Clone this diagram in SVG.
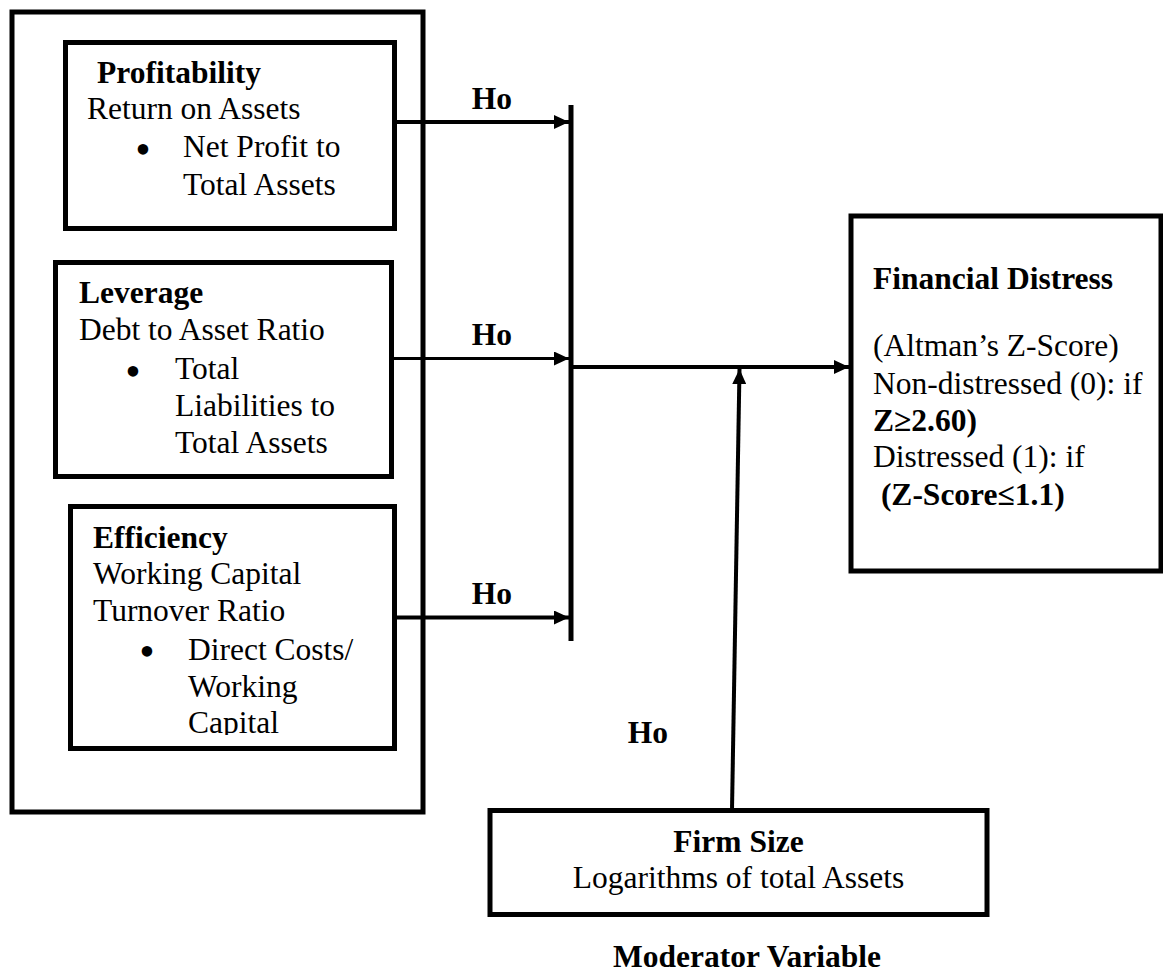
<svg xmlns="http://www.w3.org/2000/svg" width="1163" height="973" viewBox="0 0 1163 973">
<style>
.box{fill:none;stroke:#000;stroke-width:5}
.t{font-family:"Liberation Serif","Times New Roman",serif;font-size:31.5px;fill:#000}
.b{font-weight:bold}
.bul{font-family:"Liberation Serif","Times New Roman",serif;font-size:44px;fill:#000;text-anchor:middle}
.c{text-anchor:middle}
.ln{stroke:#000;stroke-width:4;fill:none}
</style>
<defs>
<marker id="ah" markerUnits="userSpaceOnUse" markerWidth="16" markerHeight="14" refX="15" refY="7" orient="auto" viewBox="0 0 16 14">
<path d="M0,0 L15,7 L0,14 z" fill="#000"/>
</marker>
<clipPath id="effclip"><rect x="60" y="500" width="340" height="235"/></clipPath>
</defs>
<rect width="1163" height="973" fill="#fff"/>

<g id="independent-variables">
<rect class="box" x="12" y="12" width="411" height="800"/>
</g>

<g id="profitability">
<rect class="box" x="65.5" y="42.5" width="329" height="186"/>
<text class="t b" x="97" y="83">Profitability</text>
<text class="t" x="87" y="119">Return on Assets</text>
<text class="bul" x="143" y="164">•</text>
<text class="t" x="183" y="157">Net Profit to</text>
<text class="t" x="183" y="195">Total Assets</text>
</g>

<g id="leverage">
<rect class="box" x="55.5" y="262.5" width="336" height="214"/>
<text class="t b" x="79" y="303">Leverage</text>
<text class="t" x="79" y="340">Debt to Asset Ratio</text>
<text class="bul" x="133" y="386">•</text>
<text class="t" x="175" y="379">Total</text>
<text class="t" x="175" y="416">Liabilities to</text>
<text class="t" x="175" y="453">Total Assets</text>
</g>

<g id="efficiency">
<rect class="box" x="70.5" y="506.5" width="324" height="242"/>
<text class="t b" x="93" y="548">Efficiency</text>
<text class="t" x="93" y="584">Working Capital</text>
<text class="t" x="93" y="621">Turnover Ratio</text>
<text class="bul" x="147" y="666">•</text>
<text class="t" x="188" y="660">Direct Costs/</text>
<text class="t" x="188" y="697">Working</text>
<text class="t" x="188" y="733" clip-path="url(#effclip)">Capital</text>
</g>

<g id="financial-distress">
<rect class="box" x="851" y="216" width="310" height="355"/>
<text class="t b" x="873" y="289">Financial Distress</text>
<text class="t" x="873" y="356">(Altman’s Z-Score)</text>
<text class="t" x="873" y="394">Non-distressed (0): if</text>
<text class="t b" x="873" y="431">Z≥2.60)</text>
<text class="t" x="873" y="467">Distressed (1): if</text>
<text class="t b" x="873" y="505" xml:space="preserve"> (Z-Score≤1.1)</text>
</g>

<g id="firm-size">
<rect class="box" x="490" y="810.5" width="497" height="104"/>
<text class="t b c" x="738.5" y="852">Firm Size</text>
<text class="t c" x="738.5" y="888">Logarithms of total Assets</text>
<text class="t b c" x="747" y="967">Moderator Variable</text>
</g>

<g id="connectors">
<line class="ln" x1="394" y1="122" x2="569" y2="122" marker-end="url(#ah)"/>
<line class="ln" x1="392" y1="358.5" x2="569" y2="358.5" style="stroke-width:3" marker-end="url(#ah)"/>
<line class="ln" x1="394" y1="617.5" x2="569" y2="617.5" marker-end="url(#ah)"/>
<line class="ln" x1="571" y1="105" x2="571" y2="641" style="stroke-width:5"/>
<line class="ln" x1="571" y1="367" x2="849" y2="367" marker-end="url(#ah)"/>
<line class="ln" x1="732" y1="810" x2="739.5" y2="369" marker-end="url(#ah)"/>
<text class="t b c" x="492" y="109">Ho</text>
<text class="t b c" x="492" y="345">Ho</text>
<text class="t b c" x="492" y="604">Ho</text>
<text class="t b c" x="648" y="743">Ho</text>
</g>
</svg>
